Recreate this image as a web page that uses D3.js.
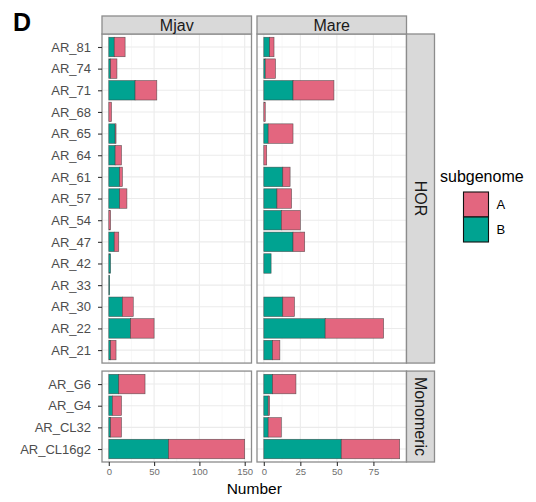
<!DOCTYPE html>
<html>
<head>
<meta charset="utf-8">
<script src="https://cdn.jsdelivr.net/npm/d3@7"></script>
<style>
  html, body { margin: 0; padding: 0; background: #fff; }
  svg { display: block; font-family: "Liberation Sans", Arial, Helvetica, sans-serif; }
</style>
</head>
<body>
<svg id="chart" width="536" height="502"></svg>
<script>
// Repeat families, grouped by type (rows of the facet grid)
const horCategories  = ["AR_81","AR_74","AR_71","AR_68","AR_65","AR_64","AR_61","AR_57",
                        "AR_54","AR_47","AR_42","AR_33","AR_30","AR_22","AR_21"];
const monoCategories = ["AR_G6","AR_G4","AR_CL32","AR_CL16g2"];
const rowGroups = ["HOR", "Monomeric"];
const species = ["Mjav", "Mare"];
const subgenomes = ["A", "B"];

// Counts per family (HOR rows first, then Monomeric rows)
const mjavB = [6, 2, 29, 0, 7, 7, 12, 12, 0, 6, 2, 1, 15, 24, 2,   11, 4, 2, 66];
const mjavA = [12, 7, 24, 3, 1, 7, 3, 8, 2, 5, 0, 0, 12, 26, 6,   29, 10, 12, 84];
const mareB = [4, 1, 20, 0, 3, 0, 13, 9, 12, 20, 5, 0, 13, 42, 6,   6, 3, 3, 53];
const mareA = [3, 7, 28, 1, 17, 2, 5, 10, 13, 8, 0, 0, 8, 40, 5,   16, 1, 9, 40];

const xTicks = { Mjav: [0, 50, 100, 150], Mare: [0, 25, 50, 75] };
const colors = { A: "#E3667F", B: "#00A391" };

// ---- build a tidy table ----
const allCategories = horCategories.concat(monoCategories);
const values = { Mjav: { A: mjavA, B: mjavB }, Mare: { A: mareA, B: mareB } };
const table = [];
species.forEach(sp => {
  allCategories.forEach((cat, i) => {
    table.push({
      species: sp,
      group: i < horCategories.length ? "HOR" : "Monomeric",
      category: cat,
      A: values[sp].A[i],
      B: values[sp].B[i]
    });
  });
});

// ---- layout ----
const svg = d3.select("#chart");
const stripTop = 16, stripH = 18;
const plotTop = stripTop + stripH;          // 34
const rowGap = 8;
const plotBottom = 462;
const colX = [102, 257];
const panelW = 149.5;
const stripRightX = colX[1] + panelW;       // right strip x
const stripW = 28;

const rowCats = { HOR: horCategories, Monomeric: monoCategories };
const units = rowGroups.map(g => rowCats[g].length - 1 + 1.2);
const totalUnits = d3.sum(units);
const availH = plotBottom - plotTop - rowGap;
const rowY = {}, rowH = {};
let yCursor = plotTop;
rowGroups.forEach((g, i) => {
  rowY[g] = yCursor;
  rowH[g] = availH * units[i] / totalUnits;
  yCursor += rowH[g] + rowGap;
});

// x scales, one per species column (free scales, 5% expansion)
const xScale = {};
species.forEach((sp, i) => {
  const maxTotal = d3.max(table.filter(d => d.species === sp), d => d.A + d.B);
  xScale[sp] = d3.scaleLinear()
    .domain([-0.05 * maxTotal, 1.05 * maxTotal])
    .range([colX[i], colX[i] + panelW]);
});

// y scales, one per row group
const yScale = {};
rowGroups.forEach(g => {
  yScale[g] = d3.scalePoint()
    .domain(rowCats[g])
    .range([rowY[g], rowY[g] + rowH[g]])
    .padding(0.6);
});

const stack = d3.stack().keys(["B", "A"]);
const borderColor = "#8C8C8C";

// ---- panels ----
species.forEach((sp, ci) => {
  const x = xScale[sp];
  const ticks = xTicks[sp];
  const step = ticks[1] - ticks[0];
  const minor = ticks.map(t => t + step / 2).filter(t => t < x.domain()[1]);

  rowGroups.forEach(g => {
    const y = yScale[g];
    const top = rowY[g], h = rowH[g];
    const panel = svg.append("g");

    panel.append("rect")
      .attr("x", colX[ci]).attr("y", top)
      .attr("width", panelW).attr("height", h)
      .attr("fill", "#fff");

    // minor grid
    panel.selectAll(".minor").data(minor).enter().append("line")
      .attr("x1", d => x(d)).attr("x2", d => x(d))
      .attr("y1", top).attr("y2", top + h)
      .attr("stroke", "#F3F3F3").attr("stroke-width", 0.6);

    // major grid
    panel.selectAll(".majorx").data(ticks).enter().append("line")
      .attr("x1", d => x(d)).attr("x2", d => x(d))
      .attr("y1", top).attr("y2", top + h)
      .attr("stroke", "#EBEBEB").attr("stroke-width", 1.1);
    panel.selectAll(".majory").data(rowCats[g]).enter().append("line")
      .attr("x1", colX[ci]).attr("x2", colX[ci] + panelW)
      .attr("y1", d => y(d)).attr("y2", d => y(d))
      .attr("stroke", "#EBEBEB").attr("stroke-width", 1.1);

    // stacked bars
    const rows = table.filter(d => d.species === sp && d.group === g);
    const series = stack(rows);
    const barH = y.step() * 0.9;
    series.forEach(s => {
      panel.selectAll(null).data(s).enter().append("rect")
        .filter(d => d[1] - d[0] > 0)
        .attr("x", d => x(d[0]))
        .attr("width", d => x(d[1]) - x(d[0]))
        .attr("y", d => y(d.data.category) - barH / 2)
        .attr("height", barH)
        .attr("fill", colors[s.key])
        .attr("stroke", "#3C3C3C")
        .attr("stroke-opacity", 0.8)
        .attr("stroke-width", 0.6);
    });

    // panel border
    panel.append("rect")
      .attr("x", colX[ci]).attr("y", top)
      .attr("width", panelW).attr("height", h)
      .attr("fill", "none")
      .attr("stroke", borderColor).attr("stroke-width", 1.3);

    // y axis on the first column only
    if (ci === 0) {
      const ax = svg.append("g")
        .attr("transform", `translate(${colX[0]},0)`)
        .call(d3.axisLeft(y).tickSize(4).tickPadding(7));
      ax.select(".domain").remove();
      ax.selectAll(".tick line").attr("stroke", "#333").attr("stroke-width", 1.1);
      ax.selectAll(".tick text")
        .attr("fill", "#4D4D4D")
        .style("font-size", "13px")
        .style("font-family", "\"Liberation Sans\", Arial, sans-serif");
    }
  });

  // x axis under the bottom row
  const bottomY = rowY.Monomeric + rowH.Monomeric;
  const xa = svg.append("g")
    .attr("transform", `translate(0,${bottomY})`)
    .call(d3.axisBottom(x).tickValues(ticks).tickSize(4).tickPadding(2));
  xa.select(".domain").remove();
  xa.selectAll(".tick line").attr("stroke", "#333").attr("stroke-width", 1.1);
  xa.selectAll(".tick text")
    .attr("fill", "#6E6E6E")
    .style("font-size", "9.5px")
    .style("font-family", "\"Liberation Sans\", Arial, sans-serif");

  // top strip
  svg.append("rect")
    .attr("x", colX[ci]).attr("y", stripTop)
    .attr("width", panelW).attr("height", stripH)
    .attr("fill", "#D9D9D9")
    .attr("stroke", borderColor).attr("stroke-width", 1.3);
  svg.append("text")
    .attr("x", colX[ci] + panelW / 2).attr("y", stripTop + stripH / 2 + 5.6)
    .attr("text-anchor", "middle")
    .attr("fill", "#1A1A1A")
    .style("font-size", "16px")
    .text(sp);
});

// right strips
rowGroups.forEach(g => {
  svg.append("rect")
    .attr("x", stripRightX).attr("y", rowY[g])
    .attr("width", stripW).attr("height", rowH[g])
    .attr("fill", "#D9D9D9")
    .attr("stroke", borderColor).attr("stroke-width", 1.3);
  const cx = stripRightX + stripW / 2, cy = rowY[g] + rowH[g] / 2;
  svg.append("text")
    .attr("transform", `translate(${cx - 5.6},${cy}) rotate(90)`)
    .attr("text-anchor", "middle")
    .attr("fill", "#1A1A1A")
    .style("font-size", "16px")
    .text(g);
});

// x axis title
svg.append("text")
  .attr("x", (colX[0] + colX[1] + panelW) / 2).attr("y", 494)
  .attr("text-anchor", "middle")
  .attr("fill", "#000")
  .style("font-size", "15.5px")
  .text("Number");

// panel tag
svg.append("text")
  .attr("x", 13).attr("y", 31)
  .attr("fill", "#000")
  .style("font-size", "25px")
  .style("font-weight", "bold")
  .text("D");

// legend
const legend = svg.append("g").attr("transform", "translate(440,0)");
legend.append("text")
  .attr("x", 0).attr("y", 182)
  .attr("fill", "#000")
  .style("font-size", "16px")
  .text("subgenome");
const keySize = 25;
subgenomes.forEach((k, i) => {
  const ky = 192 + i * keySize;
  legend.append("rect")
    .attr("x", 23.5).attr("y", ky)
    .attr("width", keySize).attr("height", keySize)
    .attr("fill", colors[k])
    .attr("stroke", "#111").attr("stroke-width", 1.1);
  legend.append("text")
    .attr("x", 56.5).attr("y", ky + keySize / 2 + 4.5)
    .attr("fill", "#000")
    .style("font-size", "13px")
    .text(k);
});
</script>
</body>
</html>
